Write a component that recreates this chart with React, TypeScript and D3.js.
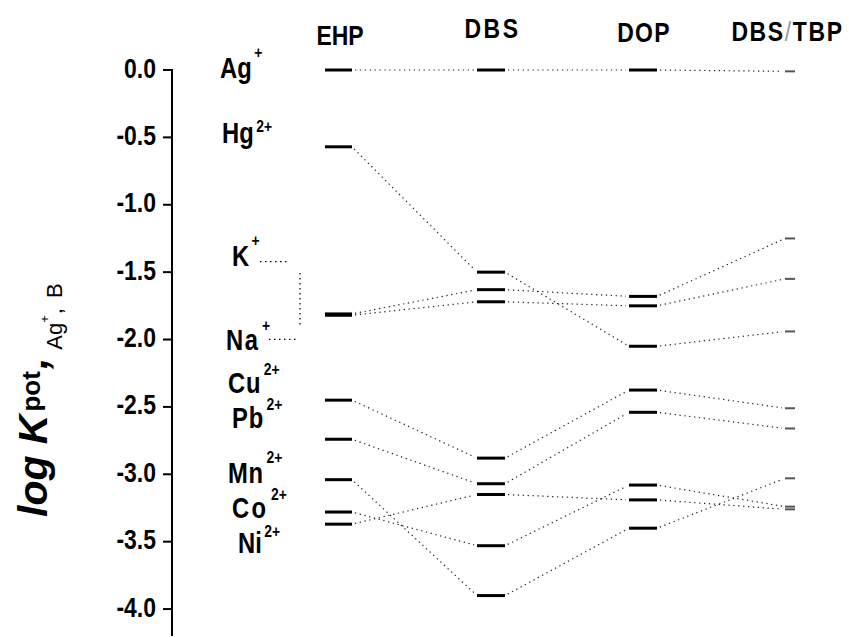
import React from "react";
import * as d3 from "d3";

const columns = ["EHP", "DBS", "DOP", "DBS/TBP"];
const ions = ["Ag", "Hg", "K", "Na", "Cu", "Pb", "Mn", "Co", "Ni"];
const charges = ["+", "2+", "+", "+", "2+", "2+", "2+", "2+", "2+"];
const ehp = [0, -0.57, -1.81, -1.82, -2.45, -2.74, -3.04, -3.28, -3.37];
const dbs = [0, -1.5, -1.63, -1.72, -2.88, -3.07, -3.9, -3.53, -3.15];
const dop = [0, -2.05, -1.68, -1.75, -2.375, -2.54, -3.4, -3.08, -3.19];
const dbsTbp = [-0.01, -1.94, -1.25, -1.55, -2.51, -2.66, -3.03, -3.24, -3.26];
const yTicks = [0, -0.5, -1.0, -1.5, -2.0, -2.5, -3.0, -3.5, -4.0];

const seriesByColumn = [ehp, dbs, dop, dbsTbp];

// layout (not data)
const W = 849;
const H = 637;
const y = d3.scaleLinear().domain([0, -4.2]).range([70, 636]);
const xCol = d3.scaleOrdinal<string, number>().domain(columns).range([338.5, 491, 643, 790]);
const halfW = [13.5, 14, 14, 5];
const barStroke = [3, 3, 3, 2];
const barColor = ["#000", "#000", "#000", "#555"];
const axisX = 172;

const labelX = [220, 222, 232, 226, 228, 232, 228, 232, 238];
const labelY = [78, 143, 266, 350, 393, 428, 483, 518, 553];
const supDy = [-20, -11, -20, -19, -18, -18, -20, -18, -16];
const labelLS = [0, 0, 0, 2, 1, 1, 1, 3, 0];

const headerX = [340, 492.5, 644, 787.5];
const headerY = [45, 38, 42, 41];
const headerLS = [0, 3, 1.5, 2];

const sans = "'Liberation Sans', Arial, sans-serif";
const SX = 0.82;

export default function App() {
  const links: { x1: number; y1: number; x2: number; y2: number; key: string }[] = [];
  ions.forEach((ion, i) => {
    for (let c = 0; c < columns.length - 1; c++) {
      const ax = xCol(columns[c]) + halfW[c];
      const ay = y(seriesByColumn[c][i]);
      const bx = xCol(columns[c + 1]) - halfW[c + 1];
      const by = y(seriesByColumn[c + 1][i]);
      const len = Math.hypot(bx - ax, by - ay);
      const g = 3 / len;
      links.push({
        key: `${ion}-${c}`,
        x1: ax + (bx - ax) * g,
        y1: ay + (by - ay) * g,
        x2: bx - (bx - ax) * g,
        y2: by - (by - ay) * g,
      });
    }
  });

  return (
    <svg width={W} height={H} style={{ position: "absolute", left: 0, top: 0, background: "#fff" }}>
      <rect x={0} y={0} width={W} height={H} fill="#fff" />
      {/* y axis */}
      <line x1={axisX} x2={axisX} y1={y(0) - 1} y2={y(-4.2)} stroke="#000" strokeWidth={2} />
      {yTicks.map((t) => (
        <g key={t}>
          <line x1={axisX - 9} x2={axisX} y1={y(t)} y2={y(t)} stroke="#000" strokeWidth={2} />
          <text
            transform={`translate(156,${y(t) + 7.5}) scale(${SX},1)`}
            textAnchor="end"
            fontFamily={sans}
            fontWeight="bold"
            fontSize={28}
          >
            {t === 0 ? "0.0" : "-" + Math.abs(t).toFixed(1)}
          </text>
        </g>
      ))}

      {/* axis title */}
      <text transform="translate(47,517) rotate(-90)" fontFamily={sans} fill="#000">
        <tspan fontSize={41} fontWeight="bold" fontStyle="italic">log K</tspan>
        <tspan fontSize={26} fontWeight="bold" dx={3} dy={-7}>pot</tspan>
        <tspan fontSize={41} fontWeight="bold" fontStyle="italic" dx={2} dy={7}>,</tspan>
        <tspan fontSize={22} dx={8} dy={15}>Ag</tspan>
        <tspan fontSize={13} dx={0} dy={-13}>+</tspan>
        <tspan fontSize={22} dx={1} dy={13}>,</tspan>
        <tspan fontSize={22} dx={10}>B</tspan>
      </text>

      {/* column headers */}
      {columns.map((c, i) => (
        <text
          key={c}
          transform={`translate(${headerX[i]},${headerY[i]}) scale(${SX},1)`}
          textAnchor="middle"
          fontFamily={sans}
          fontWeight="bold"
          fontSize={28}
          letterSpacing={headerLS[i]}
        >
          {c.includes("/") ? (
            <>
              <tspan>{c.split("/")[0]}</tspan>
              <tspan fontWeight="normal" fill="#999">/</tspan>
              <tspan>{c.split("/")[1]}</tspan>
            </>
          ) : (
            c
          )}
        </text>
      ))}

      {/* ion labels */}
      {ions.map((ion, i) => (
        <text
          key={ion}
          transform={`translate(${labelX[i]},${labelY[i]}) scale(${SX},1)`}
          fontFamily={sans}
          fontWeight="bold"
          fontSize={29}
          letterSpacing={labelLS[i]}
        >
          {ion}
          <tspan fontSize={17} dx={3} dy={supDy[i]} letterSpacing={0}>{charges[i]}</tspan>
        </text>
      ))}

      {/* K / Na bracket */}
      <g stroke="#000" strokeWidth={1.2} strokeDasharray="1.5 3.5" fill="none">
        <line x1={260} x2={290} y1={261.7} y2={261.7} />
        <line x1={300} x2={300} y1={273} y2={325} />
        <line x1={269} x2={298} y1={339.3} y2={339.3} />
      </g>

      {/* connecting dotted lines */}
      <g stroke="#222" strokeWidth={1.2} strokeDasharray="1.3 3.6" fill="none">
        {links.map((l) => (
          <line key={l.key} x1={l.x1} y1={l.y1} x2={l.x2} y2={l.y2} />
        ))}
      </g>

      {/* level bars */}
      {columns.map((c, ci) =>
        seriesByColumn[ci].map((v, i) => (
          <line
            key={`${c}-${i}`}
            x1={xCol(c) - halfW[ci]}
            x2={xCol(c) + halfW[ci]}
            y1={y(v)}
            y2={y(v)}
            stroke={barColor[ci]}
            strokeWidth={barStroke[ci]}
          />
        ))
      )}
    </svg>
  );
}
